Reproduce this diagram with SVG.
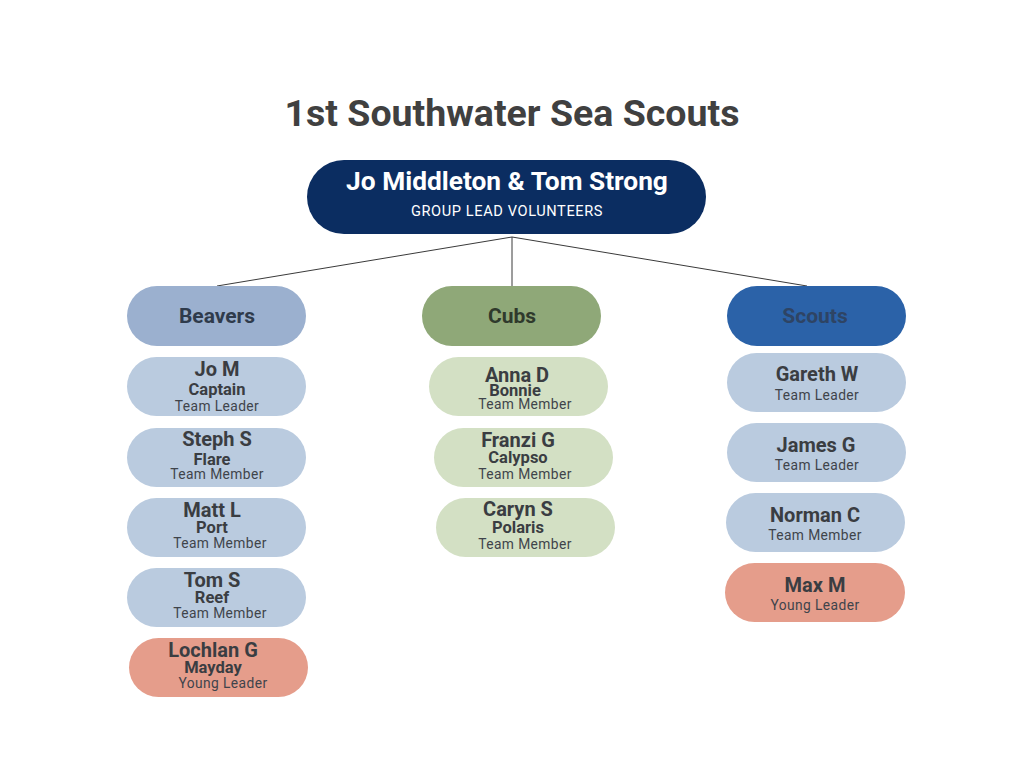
<svg xmlns="http://www.w3.org/2000/svg" width="1024" height="768" viewBox="0 0 1024 768">
<style>
text{font-family:Roboto,"Liberation Sans",sans-serif;text-anchor:middle}
.title{font-size:37.5px;font-weight:700;fill:#404040}
.n{font-size:20px;font-weight:700;fill:#3a3d42}
.s{font-size:16.5px;font-weight:700;fill:#3a3d42}
.r{font-size:13.8px;fill:#3f444b;letter-spacing:0.4px}
.g{font-size:21px;font-weight:700}
.lb{fill:#BACBDF}
.lg{fill:#D3E0C4}
.pk{fill:#E59D8B}
.conn line{stroke:#3a3a3a;stroke-width:1}
</style>
<rect width="1024" height="768" fill="#ffffff"/>
<text class="title" x="512" y="126">1st Southwater Sea Scouts</text>
<g class="conn" id="connectors">
<line x1="512" y1="237" x2="217" y2="286"/>
<line x1="512" y1="237" x2="512" y2="286"/>
<line x1="512" y1="237" x2="807" y2="286"/>
</g>
<g id="lead">
<rect x="307" y="160" width="399" height="74" rx="37" fill="#0B2D61"/>
<text x="507" y="190" style="font-size:26.3px;font-weight:700;fill:#ffffff">Jo Middleton &amp; Tom Strong</text>
<text x="507" y="216" style="font-size:14.6px;fill:#ffffff;letter-spacing:0.6px">GROUP LEAD VOLUNTEERS</text>
</g>
<g id="beavers">
<rect x="127" y="286" width="179" height="60" rx="30" fill="#9BB0CF"/>
<text class="g" x="217" y="323" fill="#2f3b4c">Beavers</text>
</g>
<g id="cubs">
<rect x="422" y="286" width="179" height="60" rx="30" fill="#8FA878"/>
<text class="g" x="512" y="323" fill="#2f3a2c">Cubs</text>
</g>
<g id="scouts">
<rect x="727" y="286" width="179" height="60" rx="30" fill="#2B62A8"/>
<text class="g" x="815" y="323" fill="#2e4464">Scouts</text>
</g>
<g id="jo-m">
<rect class="lb" x="127" y="357" width="179" height="59" rx="29.5"/>
<text class="n" x="217" y="376">Jo M</text>
<text class="s" x="217" y="395">Captain</text>
<text class="r" x="217" y="411">Team Leader</text>
</g>
<g id="steph-s">
<rect class="lb" x="127" y="428" width="179" height="59" rx="29.5"/>
<text class="n" x="217" y="446">Steph S</text>
<text class="s" x="212" y="465">Flare</text>
<text class="r" x="217" y="479">Team Member</text>
</g>
<g id="matt-l">
<rect class="lb" x="127" y="498" width="179" height="59" rx="29.5"/>
<text class="n" x="212" y="517">Matt L</text>
<text class="s" x="212" y="533">Port</text>
<text class="r" x="220" y="548">Team Member</text>
</g>
<g id="tom-s">
<rect class="lb" x="127" y="568" width="179" height="59" rx="29.5"/>
<text class="n" x="212" y="587">Tom S</text>
<text class="s" x="212" y="603">Reef</text>
<text class="r" x="220" y="618">Team Member</text>
</g>
<g id="lochlan-g">
<rect class="pk" x="129" y="638" width="179" height="59" rx="29.5"/>
<text class="n" x="213" y="657">Lochlan G</text>
<text class="s" x="213" y="673">Mayday</text>
<text class="r" x="223" y="688">Young Leader</text>
</g>
<g id="anna-d">
<rect class="lg" x="429" y="357" width="179" height="59" rx="29.5"/>
<text class="n" x="517" y="382">Anna D</text>
<text class="s" x="515" y="396">Bonnie</text>
<text class="r" x="525" y="409">Team Member</text>
</g>
<g id="franzi-g">
<rect class="lg" x="434" y="428" width="179" height="59" rx="29.5"/>
<text class="n" x="518" y="447">Franzi G</text>
<text class="s" x="518" y="463">Calypso</text>
<text class="r" x="525" y="479">Team Member</text>
</g>
<g id="caryn-s">
<rect class="lg" x="436" y="498" width="179" height="59" rx="29.5"/>
<text class="n" x="518" y="516">Caryn S</text>
<text class="s" x="518" y="533">Polaris</text>
<text class="r" x="525" y="549">Team Member</text>
</g>
<g id="gareth-w">
<rect class="lb" x="727" y="353" width="179" height="59" rx="29.5"/>
<text class="n" x="817" y="381">Gareth W</text>
<text class="r" x="817" y="400">Team Leader</text>
</g>
<g id="james-g">
<rect class="lb" x="727" y="423" width="179" height="59" rx="29.5"/>
<text class="n" x="816" y="452">James G</text>
<text class="r" x="817" y="470">Team Leader</text>
</g>
<g id="norman-c">
<rect class="lb" x="726" y="493" width="179" height="59" rx="29.5"/>
<text class="n" x="815" y="522">Norman C</text>
<text class="r" x="815" y="540">Team Member</text>
</g>
<g id="max-m">
<rect class="pk" x="725" y="563" width="180" height="59" rx="29.5"/>
<text class="n" x="815" y="592">Max M</text>
<text class="r" x="815" y="610">Young Leader</text>
</g>
</svg>
